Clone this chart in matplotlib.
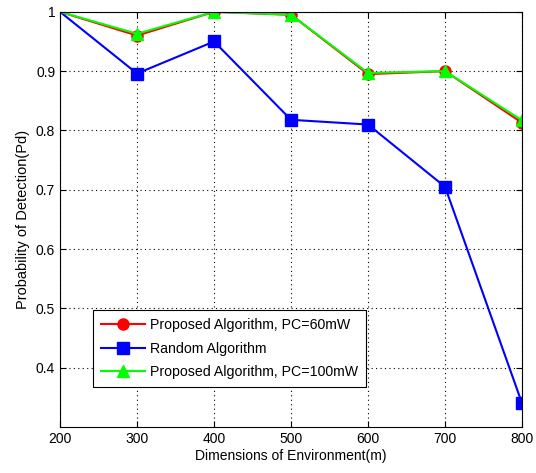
import matplotlib
matplotlib.use('Agg')
import matplotlib.pyplot as plt

plt.rcParams['font.family'] = ['Liberation Sans', 'DejaVu Sans']

# Data
dims = [200, 300, 400, 500, 600, 700, 800]
pd_proposed_60 = [1.0, 0.960, 1.0, 0.995, 0.895, 0.900, 0.813]
pd_random = [1.0, 0.896, 0.950, 0.818, 0.810, 0.705, 0.340]
pd_proposed_100 = [1.0, 0.963, 1.0, 0.995, 0.897, 0.900, 0.817]

x_ticks = [200, 300, 400, 500, 600, 700, 800]
y_ticks = [0.4, 0.5, 0.6, 0.7, 0.8, 0.9, 1.0]
y_tick_labels = ['0.4', '0.5', '0.6', '0.7', '0.8', '0.9', '1']

fig = plt.figure(figsize=(5.36, 4.73), dpi=100)
ax = fig.add_axes([0.112, 0.097, 0.862, 0.878])

# first point (corner) shows no marker in the original
marks = slice(1, None)
ax.plot(dims, pd_proposed_60, color='#ff0000', marker='o', markersize=8,
        linewidth=1.5, markevery=marks, label='Proposed Algorithm, PC=60mW')
ax.plot(dims, pd_random, color='#0000ff', marker='s', markersize=8,
        linewidth=1.5, markevery=marks, label='Random Algorithm')
ax.plot(dims, pd_proposed_100, color='#00ff00', marker='^', markersize=8,
        linewidth=1.5, markevery=marks, label='Proposed Algorithm, PC=100mW')

ax.set_xlim(200, 800)
ax.set_ylim(0.3, 1.0)
ax.set_xticks(x_ticks)
ax.set_yticks(y_ticks)
ax.set_yticklabels(y_tick_labels)
ax.tick_params(direction='in', labelsize=10, length=4, top=True, right=True)
ax.grid(True, linestyle=(0, (1, 3)), color='black', linewidth=0.8)
for spine in ax.spines.values():
    spine.set_linewidth(0.8)

ax.set_xlabel('Dimensions of Environment(m)', fontsize=10, labelpad=2)
ax.set_ylabel('Probability of Detection(Pd)', fontsize=10.5, labelpad=4)

leg = ax.legend(loc='lower left', bbox_to_anchor=(0.071, 0.096), fontsize=10.2,
                fancybox=False, framealpha=1, edgecolor='black',
                borderaxespad=0, handlelength=3.1, handletextpad=0.3,
                labelspacing=0.65, borderpad=0.6)
leg.get_frame().set_linewidth(0.8)

fig.savefig('out.png', dpi=100)
